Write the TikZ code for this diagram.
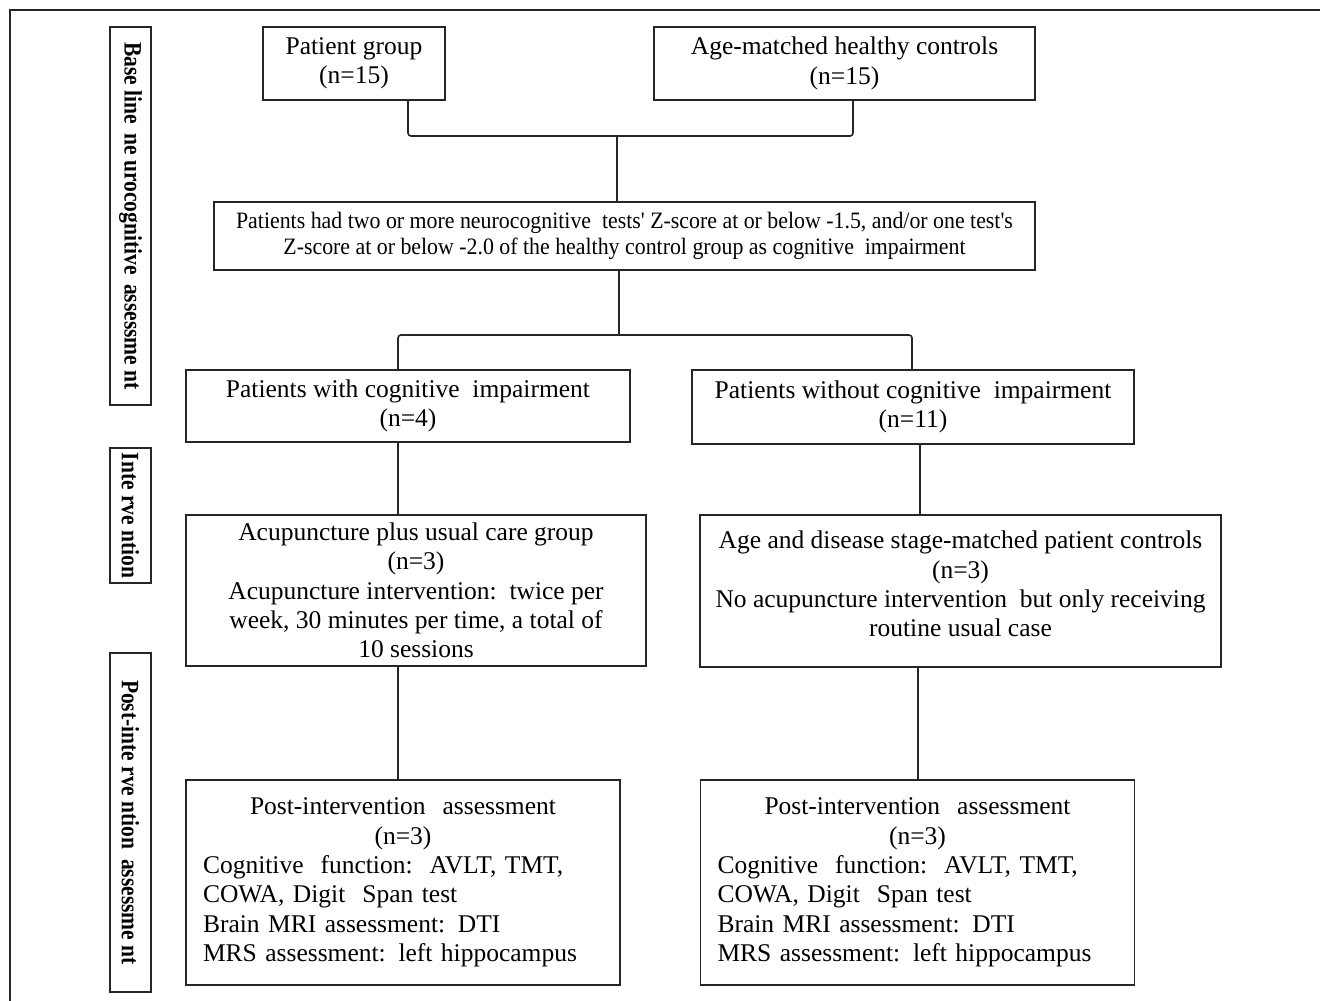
\documentclass[tikz,border=0pt]{standalone}
\usepackage{fontspec}
\setmainfont{Liberation Serif}
\newfontfamily\critfont[FakeStretch=0.93]{Liberation Serif}
\newfontfamily\sidefont[FakeStretch=0.86]{Liberation Serif}
\usetikzlibrary{calc}
\begin{document}
\begin{tikzpicture}[x=1pt,y=-1pt,
  box/.style={draw=black!85, line width=1.6pt, align=center, inner sep=0pt,
              font=\fontsize{25.5}{29.3}\selectfont},
  postbox/.style={box, align=left, text width=400pt, inner xsep=17pt,
              minimum width=434pt, minimum height=205pt},
  crit/.style={draw=black!85, line width=1.6pt, align=center, inner sep=0pt,
              font=\critfont\fontsize{23.5}{26}\selectfont},
  side/.style={draw=black!85, line width=1.6pt, rotate=-90, inner sep=0pt,
              minimum height=41pt, font=\sidefont\bfseries\fontsize{25}{28}\selectfont},
  conn/.style={line width=1.6pt, black!85, rounded corners=3pt}]
\useasboundingbox (0,0) rectangle (1320,1001);
% outer frame (top and left only)
\draw[line width=2pt, black!85] (1320,9.5) -- (9.5,9.5) -- (9.5,1001);

% side labels
\node[side, minimum width=378pt] (s1) at (130.5,216) {Base line\, ne urocognitive\, assessme nt};
\node[side, minimum width=135pt] (s2) at (130.5,515.5) {Inte rve ntion};
\node[side, minimum width=339pt] (s3) at (130.5,822.5) {Post-inte rve ntion\, assessme nt};

% boxes
\node[box, minimum width=182pt, minimum height=73pt] (pg) at (354,63.5) {Patient group\\(n=15)};
\node[box, minimum width=381pt, minimum height=73pt] (ahc) at (844.5,63.5) {Age-matched healthy controls\\(n=15)};
\node[crit, minimum width=821pt, minimum height=68pt] (cr) at (624.5,236)
  {Patients had two or more neurocognitive\ \ tests' Z-score at or below -1.5, and/or one test's\\
   Z-score at or below -2.0 of the healthy control group as cognitive\ \ impairment};
\node[box, minimum width=444pt, minimum height=72pt] (ci) at (408,406) {Patients with cognitive\ \ impairment\\(n=4)};
\node[box, minimum width=442pt, minimum height=74pt] (nci) at (913,407) {Patients without cognitive\ \ impairment\\(n=11)};
\node[box, minimum width=460pt, minimum height=151pt] (acu) at (416,590.5)
  {Acupuncture plus usual care group\\(n=3)\\Acupuncture intervention:\ \ twice per\\week, 30 minutes per time, a total of\\10 sessions};
\node[box, minimum width=521pt, minimum height=152pt] (ctl) at (960.5,591)
  {Age and disease stage-matched patient controls\\(n=3)\\No acupuncture intervention\ \ but only receiving\\routine usual case\\[-15pt]};
\node[postbox] (p1) at (403,882.5)
  {\makebox[\linewidth]{Post-intervention\ \ assessment}\\\makebox[\linewidth]{(n=3)}\\
   Cognitive\ \ function:\ \ AVLT, TMT,\\COWA, Digit\ \ Span test\\Brain MRI assessment: DTI\\MRS assessment: left hippocampus};
\node[postbox] (p2) at (917.5,882.5)
  {\makebox[\linewidth]{Post-intervention\ \ assessment}\\\makebox[\linewidth]{(n=3)}\\
   Cognitive\ \ function:\ \ AVLT, TMT,\\COWA, Digit\ \ Span test\\Brain MRI assessment: DTI\\MRS assessment: left hippocampus};

% junction coordinates
\coordinate (ja) at (408,136);
\coordinate (jb) at (853,136);
\coordinate (jm) at (617,136);
\coordinate (kl) at (398,335);
\coordinate (kr) at (912,335);
\coordinate (km) at (619,335);
\coordinate (rx) at (920,0);
\coordinate (rx2) at (918,0);

% connectors
\draw[conn] (pg.south -| ja) -- (ja) -- (jb) -- (ahc.south -| jb);
\draw[conn] (jm) -- (cr.north -| jm);
\draw[conn] (cr.south -| km) -- (km);
\draw[conn] (ci.north -| kl) -- (kl) -- (kr) -- (nci.north -| kr);
\draw[conn] (ci.south -| kl) -- (acu.north -| kl);
\draw[conn] (nci.south -| rx) -- (ctl.north -| rx);
\draw[conn] (acu.south -| kl) -- (p1.north -| kl);
\draw[conn] (ctl.south -| rx2) -- (p2.north -| rx2);
\end{tikzpicture}
\end{document}
